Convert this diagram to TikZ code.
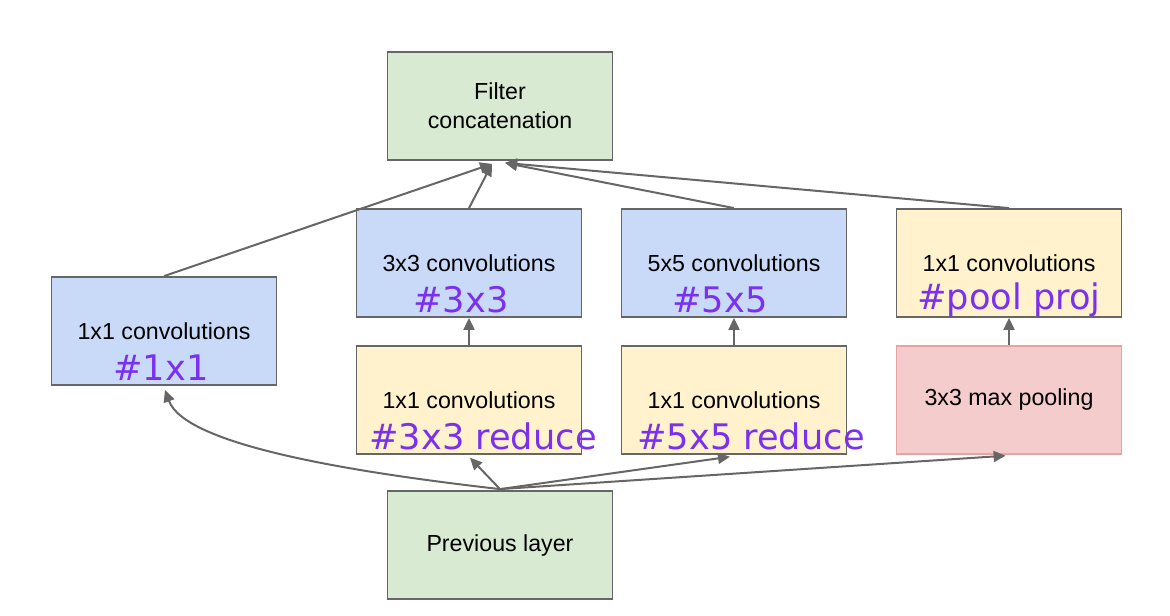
\documentclass[tikz,border=0pt]{standalone}
\usepackage{fontspec}
\setmainfont{Liberation Sans}
\newfontfamily\hashfont{DejaVu Sans}
\usetikzlibrary{arrows.meta, positioning, calc}
\definecolor{boxgreen}{HTML}{D9EAD3}
\definecolor{boxblue}{HTML}{C9DAF8}
\definecolor{boxyellow}{HTML}{FFF2CC}
\definecolor{boxred}{HTML}{F4CCCC}
\definecolor{redline}{HTML}{E8A3A3}
\definecolor{edgegray}{HTML}{666666}
\definecolor{hashpurple}{HTML}{7B30F0}

\begin{document}
\begin{tikzpicture}[
    x=0.5pt, y=-0.5pt,
    box/.style={rectangle, draw=edgegray, line width=0.9pt, minimum width=112.5pt, minimum height=54pt, inner sep=0pt, align=center, font=\fontsize{11.6}{14.5}\selectfont},
    greenbox/.style={box, fill=boxgreen},
    bluebox/.style={box, fill=boxblue},
    yellowbox/.style={box, fill=boxyellow},
    poolbox/.style={box, draw=redline, fill=boxred},
    hash/.style={text=hashpurple, inner sep=0pt, font=\hashfont\fontsize{17.6}{20}\selectfont},
    arrow/.style={-{Triangle[length=6pt, width=5.5pt]}, edgegray, line width=1pt}
]
\useasboundingbox (0,0) rectangle (1170,615);

% Output
\node[greenbox] (concat) at (500,106) {Filter\\concatenation};

% Input
\node[greenbox] (prev) at (500,545) {Previous layer};

% Branch 1
\node[bluebox] (conv1) at (164,331) {1x1 convolutions};

% Branch 2
\node[bluebox] (conv3) at (469,263) {3x3 convolutions};
\node[yellowbox, below=13.5pt of conv3] (red3) {1x1 convolutions};

% Branch 3
\node[bluebox] (conv5) at (734,263) {5x5 convolutions};
\node[yellowbox, below=13.5pt of conv5] (red5) {1x1 convolutions};

% Branch 4
\node[yellowbox] (proj) at (1009,263) {1x1 convolutions};
\node[poolbox, below=13.5pt of proj] (pool) {3x3 max pooling};

% Filter counts
\node[hash] (n1) at ($(conv1.center)+(-3,37)$) {\#1x1};
\node[hash] (n3) at ($(conv3.center)+(-8,37)$) {\#3x3};
\node[hash] (n5) at ($(conv5.center)+(-14,37)$) {\#5x5};
\node[hash] (n3r) at ($(red3.center)+(14,37)$) {\#3x3 reduce};
\node[hash] (n5r) at ($(red5.center)+(17,37)$) {\#5x5 reduce};
\node[hash] (npp) at ($(proj.center)+(0,37)$) {\#pool proj};

% Arrow ends
\coordinate (inL) at ($(concat.south)+(-8,3)$);
\coordinate (inR) at ($(concat.south)+(5,2)$);
\coordinate (src) at ($(prev.north)+(0,-1)$);

% Arrows
\draw[arrow] (src) .. controls (350,472) and (185,445) .. ($(conv1.south)+(1,4)$);
\draw[arrow] (src) -- ($(red3.south)+(1,3)$);
\draw[arrow] (src) -- ($(red5.south)+(-4,2)$);
\draw[arrow] (src) -- ($(pool.south west)+(110,1)$);
\draw[arrow] (red3) -- (conv3);
\draw[arrow] (red5) -- (conv5);
\draw[arrow] (pool) -- (proj);
\draw[arrow] (conv1.north) -- (inL);
\draw[arrow] (conv3.north) -- (inL);
\draw[arrow] (conv5.north) -- (inR);
\draw[arrow] (proj.north) -- (inR);

\end{tikzpicture}
\end{document}
